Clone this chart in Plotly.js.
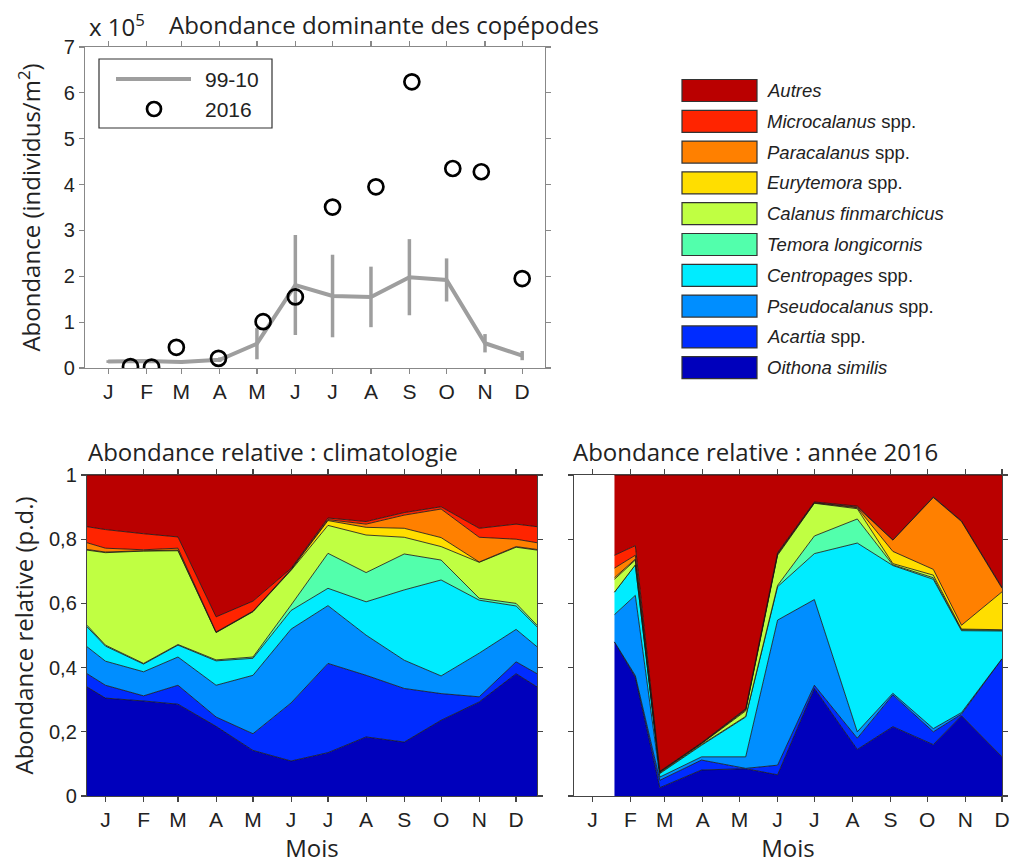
<!DOCTYPE html>
<html>
<head>
<meta charset="utf-8">
<script src="https://cdn.plot.ly/plotly-3.0.1.min.js"></script>
<style>
  html, body { margin: 0; padding: 0; background: #fff; }
  #chart { width: 1018px; height: 865px; }
</style>
</head>
<body>
<div id="chart"></div>
<script>
// Day of year at mid-month (tick positions) and month initials
const monthDays = [15, 46, 74, 105, 135, 166, 196, 227, 258, 288, 319, 349];
const monthLabels = ['J', 'F', 'M', 'A', 'M', 'J', 'J', 'A', 'S', 'O', 'N', 'D'];

// Dominant copepod abundance (x 10^5 individus/m²)
const clim9910 = [0.14, 0.15, 0.13, 0.18, 0.53, 1.81, 1.57, 1.55, 1.98, 1.92, 0.54, 0.27];
const clim9910Err = [0.03, 0.03, 0.04, 0.05, 0.34, 1.09, 0.90, 0.66, 0.83, 0.47, 0.20, 0.10];
const sampleDays2016 = [33, 50, 70, 104, 140, 166, 196, 231, 260, 293, 316, 349];
const abund2016 = [0.03, 0.02, 0.45, 0.21, 1.01, 1.55, 3.51, 3.95, 6.24, 4.35, 4.28, 1.95];

// Relative abundance, climatology (day 0 and 366 close the annual cycle)
const climDays = [0, 15, 46, 74, 105, 135, 166, 196, 227, 258, 288, 319, 349, 366];
const climOithona = [0.340, 0.305, 0.296, 0.286, 0.217, 0.142, 0.109, 0.135, 0.184, 0.168, 0.236, 0.293, 0.381, 0.340];
const climAcartia = [0.041, 0.040, 0.016, 0.059, 0.029, 0.052, 0.181, 0.278, 0.192, 0.167, 0.083, 0.016, 0.037, 0.041];
const climPseudocalanus = [0.084, 0.075, 0.075, 0.088, 0.099, 0.182, 0.230, 0.180, 0.125, 0.088, 0.055, 0.136, 0.101, 0.084];
const climCentropages = [0.062, 0.047, 0.024, 0.037, 0.076, 0.053, 0.058, 0.054, 0.104, 0.219, 0.299, 0.165, 0.073, 0.062];
const climTemora = [0.005, 0.003, 0.002, 0.002, 0.003, 0.004, 0.017, 0.109, 0.091, 0.112, 0.062, 0.006, 0.008, 0.005];
const climCalanus = [0.234, 0.288, 0.350, 0.292, 0.085, 0.141, 0.108, 0.087, 0.117, 0.052, 0.042, 0.112, 0.175, 0.234];
const climEurytemora = [0.002, 0.002, 0.001, 0.002, 0.001, 0.001, 0.002, 0.015, 0.024, 0.028, 0.028, 0.001, 0.002, 0.002];
const climParacalanus = [0.021, 0.012, 0.003, 0.006, 0.001, 0.001, 0.001, 0.003, 0.010, 0.041, 0.089, 0.077, 0.023, 0.021];
const climMicrocalanus = [0.050, 0.058, 0.050, 0.035, 0.047, 0.031, 0.003, 0.005, 0.008, 0.008, 0.007, 0.028, 0.047, 0.050];
const climAutres = [0.161, 0.170, 0.183, 0.193, 0.442, 0.393, 0.291, 0.134, 0.145, 0.117, 0.099, 0.166, 0.153, 0.161];

// Relative abundance, year 2016 (at sampling days)
const y16Oithona = [0.480, 0.370, 0.026, 0.081, 0.085, 0.066, 0.335, 0.145, 0.216, 0.160, 0.250, 0.122];
const y16Acartia = [0.000, 0.005, 0.023, 0.031, 0.001, 0.030, 0.010, 0.035, 0.099, 0.040, 0.005, 0.306];
const y16Pseudocalanus = [0.085, 0.250, 0.010, 0.010, 0.036, 0.452, 0.267, 0.020, 0.005, 0.010, 0.005, 0.000];
const y16Centropages = [0.070, 0.095, 0.011, 0.036, 0.124, 0.104, 0.143, 0.588, 0.398, 0.465, 0.255, 0.086];
const y16Temora = [0.000, 0.000, 0.002, 0.002, 0.002, 0.004, 0.055, 0.075, 0.002, 0.005, 0.003, 0.002];
const y16Calanus = [0.040, 0.015, 0.002, 0.003, 0.017, 0.094, 0.102, 0.032, 0.004, 0.008, 0.002, 0.002];
const y16Eurytemora = [0.005, 0.003, 0.001, 0.001, 0.003, 0.003, 0.001, 0.003, 0.038, 0.018, 0.012, 0.118];
const y16Paracalanus = [0.030, 0.012, 0.001, 0.001, 0.002, 0.002, 0.001, 0.002, 0.035, 0.224, 0.323, 0.011];
const y16Microcalanus = [0.040, 0.030, 0.001, 0.001, 0.002, 0.003, 0.002, 0.003, 0.001, 0.002, 0.002, 0.003];
const y16Autres = [0.250, 0.220, 0.923, 0.834, 0.728, 0.242, 0.084, 0.097, 0.202, 0.068, 0.143, 0.350];

// Taxa from bottom of the stack to top
const taxaNames = [
  '<i>Oithona similis</i>', '<i>Acartia</i> spp.', '<i>Pseudocalanus</i> spp.',
  '<i>Centropages</i> spp.', '<i>Temora longicornis</i>', '<i>Calanus finmarchicus</i>',
  '<i>Eurytemora</i> spp.', '<i>Paracalanus</i> spp.', '<i>Microcalanus</i> spp.', '<i>Autres</i>'
];
const taxaColors = [
  'rgb(0,0,188)', 'rgb(0,44,255)', 'rgb(0,142,255)', 'rgb(0,236,255)', 'rgb(82,255,172)',
  'rgb(192,255,66)', 'rgb(255,222,0)', 'rgb(255,128,0)', 'rgb(255,36,0)', 'rgb(186,0,0)'
];
const climSeries = [climOithona, climAcartia, climPseudocalanus, climCentropages, climTemora,
  climCalanus, climEurytemora, climParacalanus, climMicrocalanus, climAutres];
const y16Series = [y16Oithona, y16Acartia, y16Pseudocalanus, y16Centropages, y16Temora,
  y16Calanus, y16Eurytemora, y16Paracalanus, y16Microcalanus, y16Autres];

const W = 1018, H = 865;
const px = v => v / W;
const py = v => 1 - v / H;

const tickFont = { family: 'Liberation Sans, Arial, sans-serif', size: 20, color: '#222' };
const monthFont = { family: 'Liberation Sans, Arial, sans-serif', size: 21, color: '#222' };
const titleFont = { family: 'Open Sans, sans-serif', size: 24, color: '#222' };

const traces = [];

// Top panel: 1999-2010 mean with spread, and 2016 samples
traces.push({
  x: monthDays, y: clim9910, xaxis: 'x', yaxis: 'y', type: 'scatter', mode: 'lines',
  line: { color: 'rgb(158,158,158)', width: 4 },
  error_y: { type: 'data', array: clim9910Err, visible: true, color: 'rgb(158,158,158)', thickness: 3.5, width: 0 },
  showlegend: false, hoverinfo: 'skip'
});
traces.push({
  x: sampleDays2016, y: abund2016, xaxis: 'x', yaxis: 'y', type: 'scatter', mode: 'markers',
  marker: { symbol: 'circle-open', size: 15, color: '#000', line: { width: 2.7, color: '#000' } },
  showlegend: false, hoverinfo: 'skip'
});

// Stacked relative abundances
function addStack(xs, seriesList, xa, ya, group) {
  seriesList.forEach((ys, i) => {
    traces.push({
      x: xs, y: ys, xaxis: xa, yaxis: ya, type: 'scatter', mode: 'lines',
      stackgroup: group, fillcolor: taxaColors[i],
      line: { color: 'rgba(20,20,20,0.9)', width: 0.9, shape: 'linear' },
      name: taxaNames[i], showlegend: false, hoverinfo: 'skip'
    });
  });
}
addStack(climDays, climSeries, 'x2', 'y2', 'clim');
addStack(sampleDays2016, y16Series, 'x3', 'y3', 'y2016');

const frame = (color) => ({
  showline: true, linecolor: color, linewidth: 1.2, mirror: 'ticks',
  ticks: 'outside', ticklen: 5, tickcolor: color, tickwidth: 1.2,
  showgrid: false, zeroline: false, tickfont: tickFont, fixedrange: true
});

const shapes = [];
const annotations = [];

// Top panel legend
shapes.push({ type: 'rect', xref: 'paper', yref: 'paper', x0: px(99), x1: px(272), y0: py(128), y1: py(59),
  line: { color: '#333', width: 1.2 }, fillcolor: 'rgba(255,255,255,1)' });
shapes.push({ type: 'line', xref: 'paper', yref: 'paper', x0: px(116), x1: px(191), y0: py(79), y1: py(79),
  line: { color: 'rgb(158,158,158)', width: 4 } });
shapes.push({ type: 'circle', xref: 'paper', yref: 'paper', xsizemode: 'pixel', ysizemode: 'pixel',
  xanchor: px(154), yanchor: py(109), x0: -7, x1: 7, y0: -7, y1: 7,
  line: { color: '#000', width: 2.7 } });
annotations.push({ xref: 'paper', yref: 'paper', x: px(203), y: py(79), xanchor: 'left', yanchor: 'middle',
  text: '99-10', showarrow: false, font: { family: tickFont.family, size: 21, color: '#222' } });
annotations.push({ xref: 'paper', yref: 'paper', x: px(203), y: py(109), xanchor: 'left', yanchor: 'middle',
  text: '2016', showarrow: false, font: { family: tickFont.family, size: 21, color: '#222' } });

// Taxa legend (top entry = top of the stack)
for (let k = 0; k < taxaNames.length; k++) {
  const i = taxaNames.length - 1 - k;
  const top = 79.5 + 30.8 * k;
  shapes.push({ type: 'rect', xref: 'paper', yref: 'paper', x0: px(682), x1: px(757), y0: py(top + 22), y1: py(top),
    fillcolor: taxaColors[i], line: { color: '#333', width: 1.2 } });
  annotations.push({ xref: 'paper', yref: 'paper', x: px(765), y: py(top + 11), xanchor: 'left', yanchor: 'middle',
    text: taxaNames[i], showarrow: false,
    font: { family: 'Liberation Sans, Arial, sans-serif', size: 18.5, color: '#222' } });
}

// Panel headings
annotations.push({ xref: 'paper', yref: 'paper', x: px(87), y: py(26), xanchor: 'left', yanchor: 'middle',
  text: 'x 10<sup>5</sup>', showarrow: false, font: titleFont });
annotations.push({ xref: 'paper', yref: 'paper', x: px(86), y: py(452), xanchor: 'left', yanchor: 'middle',
  text: 'Abondance relative : climatologie', showarrow: false, font: titleFont });
annotations.push({ xref: 'paper', yref: 'paper', x: px(571), y: py(452), xanchor: 'left', yanchor: 'middle',
  text: 'Abondance relative : année 2016', showarrow: false, font: titleFont });

const layout = {
  width: W, height: H,
  margin: { l: 0, r: 0, t: 0, b: 0 },
  paper_bgcolor: '#fff', plot_bgcolor: '#fff',
  separators: ', ',
  showlegend: false,
  title: { text: 'Abondance dominante des copépodes', x: px(169), xanchor: 'left', y: py(26), yanchor: 'middle',
    font: titleFont, xref: 'paper', yref: 'paper' },
  xaxis: Object.assign(frame('#888'), {
    domain: [px(85), px(545)], anchor: 'y', range: [-3.7, 367.4],
    tickmode: 'array', tickvals: monthDays, ticktext: monthLabels, tickfont: monthFont
  }),
  yaxis: Object.assign(frame('#888'), {
    domain: [py(368), py(47)], anchor: 'x', range: [0, 7], tickmode: 'linear', tick0: 0, dtick: 1,
    title: { text: 'Abondance (individus/m<sup>2</sup>)', font: titleFont, standoff: 16 }
  }),
  xaxis2: Object.assign(frame('#444'), {
    domain: [px(87), px(537)], anchor: 'y2', range: [0, 366],
    tickmode: 'array', tickvals: monthDays, ticktext: monthLabels, tickfont: monthFont,
    title: { text: 'Mois', font: titleFont, standoff: 8 }
  }),
  yaxis2: Object.assign(frame('#444'), {
    domain: [py(796), py(475)], anchor: 'x2', range: [0, 1], tickmode: 'linear', tick0: 0, dtick: 0.2,
    title: { text: 'Abondance relative (p.d.)', font: titleFont, standoff: 8 }
  }),
  xaxis3: Object.assign(frame('#444'), {
    domain: [px(574), px(1002)], anchor: 'y3', range: [0, 349],
    tickmode: 'array', tickvals: monthDays, ticktext: monthLabels, tickfont: monthFont,
    title: { text: 'Mois', font: titleFont, standoff: 8 }
  }),
  yaxis3: Object.assign(frame('#444'), {
    domain: [py(796), py(475)], anchor: 'x3', range: [0, 1], tickmode: 'linear', tick0: 0, dtick: 0.2,
    showticklabels: false
  }),
  shapes: shapes,
  annotations: annotations
};

Plotly.newPlot('chart', traces, layout, { displayModeBar: false, staticPlot: true });
</script>
</body>
</html>
